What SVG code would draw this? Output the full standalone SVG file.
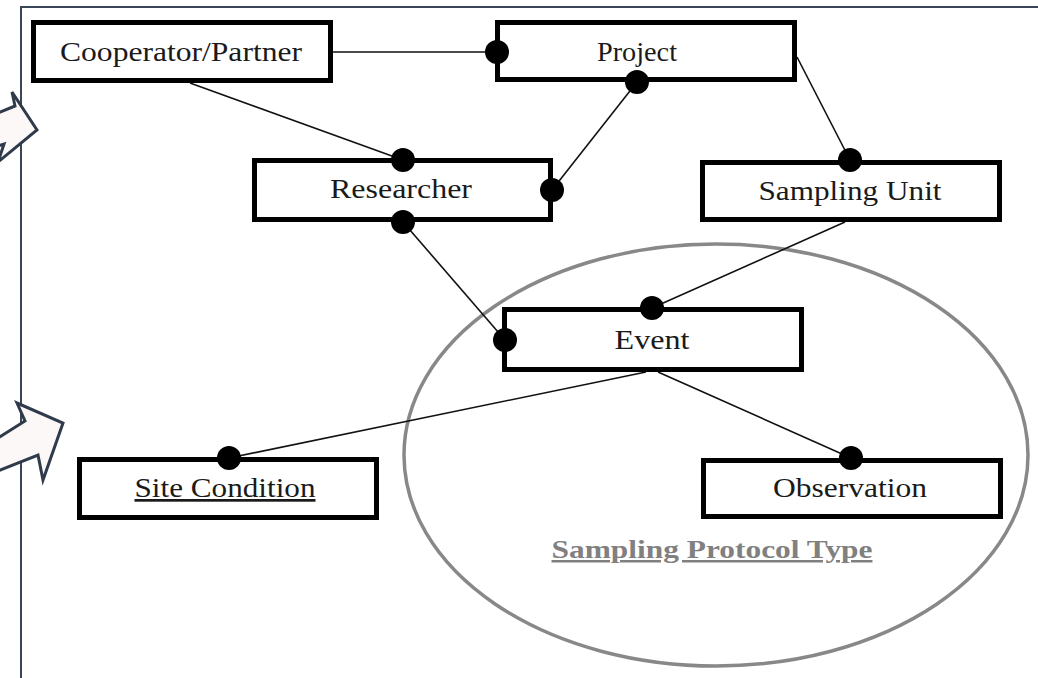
<svg xmlns="http://www.w3.org/2000/svg" width="1038" height="678" viewBox="0 0 1038 678">
<style>
.box{fill:#fff;stroke:#000;stroke-width:5}
.lbl{font-family:"Liberation Serif","Times New Roman",serif;font-size:27px;fill:#1a1a1a;text-anchor:middle}
.con{stroke:#111;stroke-width:1.6;fill:none}
.dot{fill:#000}
.arw{fill:#fcf8f8;stroke:#2f3b4b;stroke-width:3;stroke-linejoin:miter}
</style>
<rect width="1038" height="678" fill="#fff"/>
<g id="frame">
<path d="M21,678 V7 H1038" fill="none" stroke="#3a4556" stroke-width="2"/>
</g>
<g id="arrows">
<polygon class="arw" points="-2,113 15,106 12,92 37,130 -2,162 4,144 -2,146"/>
<polygon class="arw" points="-2,438 25,421 17,403 63,423 43,480 38,455 -2,471"/>
</g>
<g id="protocol">
<ellipse cx="716" cy="455" rx="312" ry="211" fill="none" stroke="#888" stroke-width="3.5"/>
<text x="712" y="558" font-family="Liberation Serif,Times New Roman,serif" font-size="25" font-weight="bold" fill="#808080" text-anchor="middle" text-decoration="underline" textLength="321" lengthAdjust="spacingAndGlyphs">Sampling Protocol Type</text>
</g>
<g id="connectors">
<line class="con" x1="333" y1="52" x2="497" y2="52"/>
<line class="con" x1="190" y1="83" x2="403" y2="160"/>
<line class="con" x1="637" y1="82" x2="552" y2="190"/>
<line class="con" x1="797" y1="57" x2="850" y2="160"/>
<line class="con" x1="403" y1="222" x2="505" y2="340"/>
<line class="con" x1="845" y1="222" x2="652" y2="308"/>
<line class="con" x1="646" y1="372" x2="229" y2="458"/>
<line class="con" x1="658" y1="372" x2="851" y2="458"/>
</g>
<g id="cooperator">
<rect class="box" x="33.5" y="22.5" width="297" height="58"/>
<text class="lbl" x="181" y="61" textLength="242" lengthAdjust="spacingAndGlyphs">Cooperator/Partner</text>
</g>
<g id="project">
<rect class="box" x="497.5" y="22.5" width="297" height="57"/>
<text class="lbl" x="637" y="61" textLength="80" lengthAdjust="spacingAndGlyphs">Project</text>
<circle class="dot" cx="497" cy="52" r="12"/>
<circle class="dot" cx="637" cy="82" r="12"/>
</g>
<g id="researcher">
<rect class="box" x="254.5" y="160.5" width="296" height="59"/>
<text class="lbl" x="401" y="198" textLength="142" lengthAdjust="spacingAndGlyphs">Researcher</text>
<circle class="dot" cx="403" cy="160" r="12"/>
<circle class="dot" cx="552" cy="190" r="12"/>
<circle class="dot" cx="403" cy="222" r="12"/>
</g>
<g id="sampling-unit">
<rect class="box" x="702.5" y="162.5" width="297" height="57"/>
<text class="lbl" x="850" y="200" textLength="183" lengthAdjust="spacingAndGlyphs">Sampling Unit</text>
<circle class="dot" cx="850" cy="160" r="12"/>
</g>
<g id="event">
<rect class="box" x="504.5" y="309.5" width="297" height="60"/>
<text class="lbl" x="652" y="349" textLength="75" lengthAdjust="spacingAndGlyphs">Event</text>
<circle class="dot" cx="652" cy="308" r="12"/>
<circle class="dot" cx="505" cy="340" r="12"/>
</g>
<g id="site-condition">
<rect class="box" x="79.5" y="459.5" width="297" height="58"/>
<text class="lbl" x="225" y="497" textLength="181" lengthAdjust="spacingAndGlyphs" text-decoration="underline">Site Condition</text>
<circle class="dot" cx="229" cy="458" r="12"/>
</g>
<g id="observation">
<rect class="box" x="703.5" y="460.5" width="297" height="56"/>
<text class="lbl" x="850" y="497" textLength="154" lengthAdjust="spacingAndGlyphs">Observation</text>
<circle class="dot" cx="851" cy="458" r="12"/>
</g>
</svg>
